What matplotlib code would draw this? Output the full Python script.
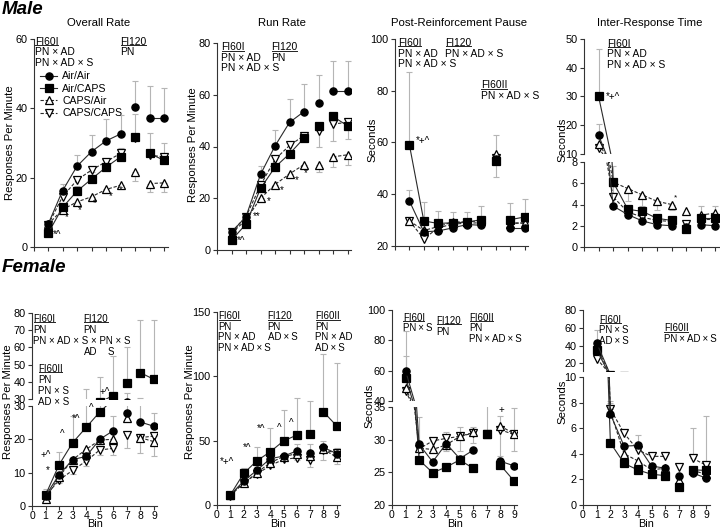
import numpy as np
import matplotlib
matplotlib.use('Agg')
import matplotlib.pyplot as plt
from matplotlib.transforms import offset_copy
from matplotlib.lines import Line2D

plt.rcParams['font.family'] = ['Liberation Sans', 'DejaVu Sans']

# ---------------- data ----------------
bins = [1, 2, 3, 4, 5, 6, 7, 8, 9]
groups = ['Air/Air', 'Air/CAPS', 'CAPS/Air', 'CAPS/CAPS']
xtick_labels = ['0', '1', '2', '3', '4', '5', '6', '7', '8', '9']

# Male - Overall Rate
m_or_airair = [6.5, 16.2, 23.3, 27.5, 30.6, 32.6, 40.3, 37.3, 37.3]
m_or_aircaps = [3.9, 11.4, 16.1, 19.6, 23.0, 26.0, 31.8, 27.0, 25.0]
m_or_capsair = [6.5, 10.8, 13.0, 14.5, 16.6, 17.8, 21.5, 18.3, 18.5]
m_or_capscaps = [6.3, 14.5, 19.3, 22.2, 24.6, 27.0, 31.3, 26.5, 26.0]
m_or_airair_up = [1.0, 2.1, 3.2, 4.8, 6.4, 5.4, 7.7, 9.2, 8.7]
m_or_aircaps_up = [0.5, 1.0, 1.5, 2.0, 2.5, 2.5, 6.5, 6.0, 5.0]
m_or_capsair_dn = [0.5, 1.0, 1.0, 1.2, 1.0, 1.2, 2.6, 2.3, 2.5]

# Male - Run Rate
m_rr_airair = [6.9, 12.9, 29.2, 40.2, 49.3, 53.5, 56.7, 61.4, 61.4]
m_rr_aircaps = [3.8, 10.0, 23.8, 32.0, 37.2, 43.2, 48.0, 51.6, 48.0]
m_rr_capsair = [6.5, 11.6, 20.0, 25.3, 29.4, 33.0, 33.0, 36.0, 36.8]
m_rr_capscaps = [6.9, 12.9, 25.0, 35.0, 40.4, 44.2, 46.0, 48.7, 49.3]
m_rr_airair_up = [0.5, 1.1, 3.3, 6.3, 9.2, 10.5, 10.8, 11.6, 11.6]
m_rr_capsair_dn = [0.5, 0.8, 1.5, 1.5, 1.5, 1.5, 3.0, 4.0, 3.8]
m_rr_capscaps_dn = [0, 0, 0, 0, 0, 0, 6.0, 6.7, 6.3]

# Male - Post-Reinforcement Pause
m_prp_airair = [37.4, 25.5, 25.8, 27.0, 28.3, 28.0, 53.5, 27.0, 27.0]
m_prp_aircaps = [59.1, 29.7, 28.7, 29.0, 29.2, 30.2, 52.9, 30.2, 31.2]
m_prp_capsair = [29.7, 26.0, 27.5, 29.3, 29.3, 29.8, 55.5, 28.6, 29.0]
m_prp_capscaps = [29.7, 22.8, 27.0, 28.5, 28.8, 29.0, 54.0, 29.0, 28.8]
m_prp_aircaps_up = [28.0, 7.3, 4.7, 4.3, 3.8, 5.4, 10.1, 6.4, 6.8]
m_prp_aircaps_dn = [0, 0, 0, 0, 0, 0, 6.4, 0, 0]
m_prp_airair_up = [4.1, 0, 0, 0, 0, 0, 0, 0, 0]

# Male - Inter-Response Time
m_irt_airair = [16.5, 3.85, 3.05, 2.45, 2.1, 2.0, 1.9, 2.1, 2.0]
m_irt_aircaps = [30.0, 6.1, 3.55, 3.35, 2.7, 2.5, 1.7, 2.7, 2.7]
m_irt_capsair = [13.4, 6.1, 5.5, 4.9, 4.3, 4.0, 3.4, 3.0, 3.2]
m_irt_capscaps = [12.2, 4.7, 3.3, 2.8, 2.5, 2.4, 2.2, 2.6, 2.6]
m_irt_aircaps_up = [16.5, 1.5, 0, 0, 0, 0, 0, 0, 0]
m_irt_airair_up = [3.8, 0, 0, 0, 0, 0, 0, 0, 0]
m_irt_capsair_dn = [0, 1.0, 1.2, 1.0, 0.8, 0.5, 0, 0, 0]
m_irt_capsair_up = [0, 0, 0, 0, 0, 0, 0, 0.9, 0.7]

# Female - Overall Rate
f_or_airair = [3.05, 9.4, 13.9, 14.9, 20.0, 22.6, 28.0, 25.2, 23.9]
f_or_aircaps = [3.3, 12.4, 19.0, 23.6, 28.2, 32.0, 39.1, 45.3, 41.4]
f_or_capsair = [2.2, 8.8, 13.9, 17.0, 19.8, 20.0, 26.4, 20.5, 19.3]
f_or_capscaps = [3.0, 7.8, 10.7, 13.5, 16.8, 17.3, 21.4, 20.5, 21.0]
f_or_aircaps_up = [1.7, 3.9, 8.0, 12.4, 14.8, 23.0, 21.3, 30.7, 34.6]
f_or_airair_up = [0, 0, 0, 0, 0, 4.4, 5.5, 5.3, 4.1]
f_or_capscaps_dn = [0.5, 1.0, 1.0, 1.5, 1.5, 2.0, 3.9, 4.5, 6.0]

# Female - Run Rate
f_rr_airair = [7.8, 18.6, 27.0, 36.0, 38.0, 42.0, 40.6, 44.7, 40.0]
f_rr_aircaps = [7.8, 24.5, 34.4, 41.3, 49.8, 54.3, 55.0, 72.4, 61.5]
f_rr_capsair = [7.8, 16.8, 25.0, 33.0, 37.5, 40.0, 38.0, 43.4, 37.0]
f_rr_capscaps = [7.2, 17.3, 24.0, 30.7, 35.4, 36.7, 35.0, 42.6, 40.6]
f_rr_aircaps_up = [1.0, 4.5, 10.6, 18.7, 24.2, 29.2, 26.0, 44.6, 48.5]
f_rr_airair_up = [0, 0, 0, 0, 0, 5.5, 7.0, 5.0, 4.0]
f_rr_capscaps_dn = [0, 0, 0, 0, 0, 2.0, 5.5, 8.0, 8.6]

# Female - Post-Reinforcement Pause
f_prp_airair = [60.0, 29.3, 26.6, 29.4, 27.1, 28.4, 30.8, 26.7, 26.0]
f_prp_aircaps = [55.3, 26.9, 24.95, 25.8, 26.9, 25.6, 30.9, 26.1, 23.7]
f_prp_capsair = [48.7, 28.7, 28.5, 29.2, 30.5, 31.1, 30.8, 32.1, 30.9]
f_prp_capscaps = [46.7, 28.6, 29.8, 30.2, 30.5, 31.0, 30.8, 31.5, 30.8]
f_prp_capsair_up = [37.7, 4.8, 1.5, 2.0, 1.5, 0.8, 0, 1.5, 4.0]
f_prp_airair_up = [9.7, 0, 0, 0, 0, 0, 0, 0, 0]
f_prp_aircaps_up = [0, 0, 0, 0, 0, 0, 5.5, 0, 0]
f_prp_capscaps_dn = [0, 2.0, 1.5, 2.0, 2.2, 1.5, 0, 4.0, 2.5]

# Female - Inter-Response Time
f_irt_airair = [43.0, 7.1, 4.6, 4.65, 3.05, 2.87, 2.27, 2.5, 2.1]
f_irt_aircaps = [35.5, 4.85, 3.25, 2.74, 2.4, 2.3, 1.4, 2.75, 2.7]
f_irt_capsair = [38.0, 7.3, 4.0, 3.45, 2.75, 2.87, 1.95, 2.7, 2.4]
f_irt_capscaps = [25.3, 7.5, 5.6, 4.3, 3.8, 3.8, 3.0, 3.65, 3.1]
f_irt_airair_up = [15.0, 1.0, 0, 0, 0, 0, 0, 0, 0]
f_irt_capscaps_up = [0, 0.5, 0, 1.2, 0, 0, 0, 2.35, 3.85]

# ---------------- figure ----------------
W, H = 720, 530
fig = plt.figure(figsize=(W / 100, H / 100), dpi=100)
XMAX = 9.25
FS_TICK = 7.8
FS_TXT = 7.4
FS_TXT_F = 7.0
T = '\u2009'  # thin space for compact female annotations
ERRC = '#b5b5b5'
LINEC = '#2a2a2a'
styles = [('o', 'black', '-'), ('s', 'black', '-'), ('^', 'white', '--'), ('v', 'white', '--')]
segments = [(0, 6), (6, 7), (7, 9)]
headers = []


def make_ax(x0, ytop, x1, ybot):
    return fig.add_axes([x0 / W, 1 - ybot / H, (x1 - x0) / W, (ybot - ytop) / H])


def style(ax, ylim, yticks, show_x=True, xlabels=False):
    ax.set_xlim(0, XMAX)
    ax.set_ylim(*ylim)
    ax.set_yticks(yticks)
    ax.patch.set_alpha(0)
    for s in ['top', 'right']:
        ax.spines[s].set_visible(False)
    for s in ['left', 'bottom']:
        ax.spines[s].set_linewidth(0.8)
        ax.spines[s].set_color('#333333')
    ax.tick_params(axis='both', direction='out', length=3, width=0.8,
                   labelsize=FS_TICK, pad=1.5, color='#333333')
    if show_x:
        ax.set_xticks(range(10))
        if xlabels:
            ax.set_xticklabels(xtick_labels)
            ax.tick_params(axis='x', pad=0.5, labelsize=7.5)
        else:
            ax.set_xticklabels([])
    else:
        ax.spines['bottom'].set_visible(False)
        ax.set_xticks([])


def draw_series(ax, series, errs):
    x = np.array(bins, dtype=float)
    for gi, ev, direction in errs:
        y = np.array(series[gi], dtype=float)
        e = np.array(ev, dtype=float)
        m = e > 0
        if not m.any():
            continue
        lo = np.zeros_like(e[m])
        yerr = [lo, e[m]] if direction == 'up' else [e[m], lo]
        ax.errorbar(x[m], y[m], yerr=yerr, fmt='none', ecolor=ERRC,
                    elinewidth=0.8, capsize=2.5, capthick=0.8, zorder=1)
    for gi in [3, 2, 1, 0]:
        mk, fc, ls = styles[gi]
        y = np.array(series[gi], dtype=float)
        for a, b in segments:
            ln, = ax.plot(x[a:b], y[a:b], color=LINEC, lw=0.8, ls=ls,
                          marker=mk, mfc=fc, mec='black', mew=0.9, ms=5.2,
                          zorder=3 + (1 if fc == 'black' else 0))
            if ls == '--':
                ln.set_dashes((3, 1.6))


def block(ax, x, y, header, lines, lh=10.5, fs=FS_TXT):
    tr = ax.transData
    if header:
        t = ax.text(x, y, header, transform=tr, va='top', ha='left',
                    fontsize=fs, clip_on=False, zorder=6)
        headers.append(t)
    for i, l in enumerate(lines):
        if l:
            ax.text(x, y, l, transform=offset_copy(tr, fig=fig, x=0, y=-(i + 1) * lh, units='dots'),
                    va='top', ha='left', fontsize=fs, clip_on=False, zorder=6)


def note(ax, x, y, s, fs=7):
    ax.text(x, y, s, fontsize=fs, ha='center', va='center', clip_on=False, zorder=6)


def ylab(xc, yc, s):
    fig.text(xc / W, 1 - yc / H, s, rotation=90, ha='center', va='center', fontsize=8.2)


def coltitle(xc, yc, s):
    fig.text(xc / W, 1 - yc / H, s, ha='center', va='center', fontsize=8.2)


def fx(*parts, sep=' × '):
    return sep.join(parts)


# ---- Male: Overall Rate ----
ax1 = make_ax(33.5, 39, 33.5 + XMAX * 14.5, 247)
style(ax1, (0, 60), [0, 20, 40, 60])
draw_series(ax1, [m_or_airair, m_or_aircaps, m_or_capsair, m_or_capscaps],
            [(0, m_or_airair_up, 'up'), (1, m_or_aircaps_up, 'up'), (2, m_or_capsair_dn, 'dn')])
block(ax1, 0.1, 60.6, 'FI60I', ['PN × AD', 'PN × AD × S'])
block(ax1, 6.0, 60.6, 'FI120', ['PN'])
for xx, yy, s in [(1.65, 3.6, '*^'), (2.3, 8.6, '*'), (3.2, 10.7, '*'), (4.25, 12.6, '*'),
                  (5.35, 14.7, '*'), (6.0, 16.4, '*')]:
    note(ax1, xx, yy, s)
handles = [Line2D([], [], color=LINEC, lw=0.8, ls=styles[i][2], marker=styles[i][0],
                  mfc=styles[i][1], mec='black', mew=0.9, ms=5.2) for i in range(4)]
for h in handles[2:]:
    h.set_dashes((3, 1.6))
leg = ax1.legend(handles, groups, loc='upper left', bbox_to_anchor=(0.05, 0.845),
                 frameon=False, fontsize=7.6, handlelength=1.6, handletextpad=0.5,
                 labelspacing=0.22, borderpad=0, borderaxespad=0)

# ---- Male: Run Rate ----
ax2 = make_ax(217, 43, 217 + XMAX * 14.5, 250)
style(ax2, (0, 80), [0, 20, 40, 60, 80])
draw_series(ax2, [m_rr_airair, m_rr_aircaps, m_rr_capsair, m_rr_capscaps],
            [(0, m_rr_airair_up, 'up'), (2, m_rr_capsair_dn, 'dn'), (3, m_rr_capscaps_dn, 'dn')])
block(ax2, 0.3, 80.2, 'FI60I', ['PN × AD', 'PN × AD × S'])
block(ax2, 3.75, 80.2, 'FI120', ['PN'])
for xx, yy, s in [(1.65, 3.6, '*^'), (2.75, 13.0, '**'), (3.6, 18.9, '*'), (4.5, 23.2, '*'),
                  (5.5, 27.0, '*'), (6.1, 29.8, '*')]:
    note(ax2, xx, yy, s)

# ---- Male: PRP ----
ax3 = make_ax(395, 39, 395 + XMAX * 14.4, 246)
style(ax3, (20, 100), [20, 40, 60, 80, 100])
draw_series(ax3, [m_prp_airair, m_prp_aircaps, m_prp_capsair, m_prp_capscaps],
            [(1, m_prp_aircaps_up, 'up'), (1, m_prp_aircaps_dn, 'dn'), (0, m_prp_airair_up, 'up')])
block(ax3, 0.2, 100.3, 'FI60I', ['PN × AD', 'PN × AD × S'])
block(ax3, 3.5, 100.3, 'FI120', ['PN × AD × S'])
block(ax3, 5.95, 84.0, 'FI60II', ['PN × AD × S'])
note(ax3, 1.95, 60.4, '*+^')

# ---- Male: IRT (broken axis) ----
x0, sp = 584, 14.6
ax4u = make_ax(x0, 39, x0 + XMAX * sp, 154)
ax4l = make_ax(x0, 162, x0 + XMAX * sp, 247)
style(ax4u, (10, 50), [10, 20, 30, 40, 50], show_x=False)
style(ax4l, (0, 8), [0, 2, 4, 6, 8])
for a in (ax4u, ax4l):
    draw_series(a, [m_irt_airair, m_irt_aircaps, m_irt_capsair, m_irt_capscaps],
                [(1, m_irt_aircaps_up, 'up'), (0, m_irt_airair_up, 'up'),
                 (2, m_irt_capsair_dn, 'dn'), (2, m_irt_capsair_up, 'up')])
block(ax4u, 1.6, 50.0, 'FI60I', ['PN × AD', 'PN × AD × S'])
note(ax4u, 2.0, 29.9, '*+^')
note(ax4l, 6.25, 4.65, '*', fs=6)

# ---- Female: Overall Rate (broken) ----
x0, sp = 32, 13.55
ax5u = make_ax(x0, 313, x0 + XMAX * sp, 399)
ax5l = make_ax(x0, 406, x0 + XMAX * sp, 506)
style(ax5u, (30, 80), [30, 40, 50, 60, 70, 80], show_x=False)
style(ax5l, (0, 30), [0, 10, 20, 30], xlabels=True)
for a in (ax5u, ax5l):
    draw_series(a, [f_or_airair, f_or_aircaps, f_or_capsair, f_or_capscaps],
                [(1, f_or_aircaps_up, 'up'), (0, f_or_airair_up, 'up'), (3, f_or_capscaps_dn, 'dn')])
block(ax5u, 0.1, 79.5, 'FI60I', ['PN', 'PN × AD × S × PN × S'], lh=11, fs=FS_TXT_F)
block(ax5u, 3.8, 79.5, 'FI120', ['PN', '', 'AD'], lh=11, fs=FS_TXT_F)
block(ax5u, 5.6, 79.5, '', ['', '', 'S'], lh=11, fs=FS_TXT_F)
block(ax5u, 0.45, 50.3, 'FI60II', ['PN', 'PN × S', 'AD × S'], lh=11, fs=FS_TXT_F)
for xx, yy, s in [(1.0, 15.3, '+^'), (1.2, 10.8, '*'), (2.25, 21.6, '^'), (3.25, 26.0, '*^'),
                  (4.4, 29.5, '^')]:
    note(ax5l, xx, yy, s)
note(ax5u, 5.4, 34.2, '+^')

# ---- Female: Run Rate ----
ax6 = make_ax(217, 312, 217 + XMAX * 13.3, 505)
style(ax6, (0, 150), [0, 50, 100, 150], xlabels=True)
draw_series(ax6, [f_rr_airair, f_rr_aircaps, f_rr_capsair, f_rr_capscaps],
            [(1, f_rr_aircaps_up, 'up'), (0, f_rr_airair_up, 'up'), (3, f_rr_capscaps_dn, 'dn')])
block(ax6, 0.1, 150.5, 'FI60I', ['PN', 'PN × AD', fx('PN', 'AD', 'S', sep=T + '×' + T)], fs=FS_TXT_F)
block(ax6, 3.8, 150.5, 'FI120', ['PN', fx('AD', 'S', sep=T + '×' + T)], fs=FS_TXT_F)
block(ax6, 7.4, 150.5, 'FI60II', ['PN', 'PN × AD', fx('AD', 'S', sep=T + '×' + T)], fs=FS_TXT_F)
for xx, yy, s in [(0.75, 33.6, '*+^'), (2.25, 44.5, '*^'), (3.3, 59.0, '*^'), (4.65, 59.6, '^'),
                  (5.55, 63.5, '^')]:
    note(ax6, xx, yy, s)

# ---- Female: PRP (broken) ----
x0, sp = 392, 13.55
ax7u = make_ax(x0, 310, x0 + XMAX * sp, 401)
ax7l = make_ax(x0, 407, x0 + XMAX * sp, 505)
style(ax7u, (40, 100), [40, 60, 80, 100], show_x=False)
style(ax7l, (20, 35), [20, 25, 30, 35], xlabels=True)
for a in (ax7u, ax7l):
    draw_series(a, [f_prp_airair, f_prp_aircaps, f_prp_capsair, f_prp_capscaps],
                [(2, f_prp_capsair_up, 'up'), (0, f_prp_airair_up, 'up'),
                 (1, f_prp_aircaps_up, 'up'), (3, f_prp_capscaps_dn, 'dn')])
block(ax7u, 0.8, 98.3, 'FI60I', [fx('PN', 'S', sep=T + '×' + T)], fs=FS_TXT_F)
block(ax7u, 3.3, 96.0, 'FI120', ['PN'], fs=FS_TXT_F)
block(ax7u, 5.7, 98.3, 'FI60II', ['PN', fx('PN', 'AD', 'S', sep=T + '×' + T)], fs=FS_TXT_F)
note(ax7l, 8.1, 34.6, '+')

# ---- Female: IRT (broken) ----
x0, sp = 583, 13.7
ax8u = make_ax(x0, 310, x0 + XMAX * sp, 370.5)
ax8l = make_ax(x0, 377, x0 + XMAX * sp, 505)
style(ax8u, (12, 80), [20, 40, 60, 80], show_x=False)
style(ax8l, (0, 10), [0, 2, 4, 6, 8, 10], xlabels=True)
for a in (ax8u, ax8l):
    draw_series(a, [f_irt_airair, f_irt_aircaps, f_irt_capsair, f_irt_capscaps],
                [(0, f_irt_airair_up, 'up'), (3, f_irt_capscaps_up, 'up')])
block(ax8u, 1.17, 74.5, 'FI60I', [fx('PN', 'S', sep=T + '×' + T), fx('AD', 'S', sep=T + '×' + T)],
      fs=FS_TXT_F)
block(ax8u, 5.9, 65.0, 'FI60II', [fx('PN', 'AD', 'S', sep=T + '×' + T)], fs=FS_TXT_F)

# ---- labels & titles ----
fig.text(2 / W, 1 - 10 / H, 'Male', fontsize=13.5, fontweight='bold', fontstyle='italic',
         ha='left', va='center')
fig.text(2 / W, 1 - 267 / H, 'Female', fontsize=13.5, fontweight='bold', fontstyle='italic',
         ha='left', va='center')
coltitle(99, 23, 'Overall Rate')
coltitle(282, 23, 'Run Rate')
coltitle(459, 23, 'Post-Reinforcement Pause')
coltitle(650, 23, 'Inter-Response Time')
ylab(10, 143, 'Responses Per Minute')
ylab(193, 145, 'Responses Per Minute')
ylab(372, 140, 'Seconds')
ylab(562, 140, 'Seconds')
ylab(8, 402, 'Responses Per Minute')
ylab(190, 402, 'Responses Per Minute')
ylab(369, 406, 'Seconds')
ylab(562, 402, 'Seconds')
for a in (ax5l, ax6, ax7l, ax8l):
    pos = a.get_position()
    fig.text((pos.x0 + pos.x1) / 2, 1 - 524.3 / H, 'Bin', ha='center', va='center', fontsize=7.8)

# ---- underline headers ----
fig.canvas.draw()
renderer = fig.canvas.get_renderer()
inv = fig.transFigure.inverted()
for t in headers:
    bb = t.get_window_extent(renderer)
    (fx0, fy0) = inv.transform((bb.x0 + 0.5, bb.y0 + 1.8))
    (fx1, _) = inv.transform((bb.x1 - 0.5, bb.y0 + 1.8))
    fig.add_artist(Line2D([fx0, fx1], [fy0, fy0], transform=fig.transFigure,
                          color='#222222', lw=0.7))

fig.savefig('out.png', dpi=100)
